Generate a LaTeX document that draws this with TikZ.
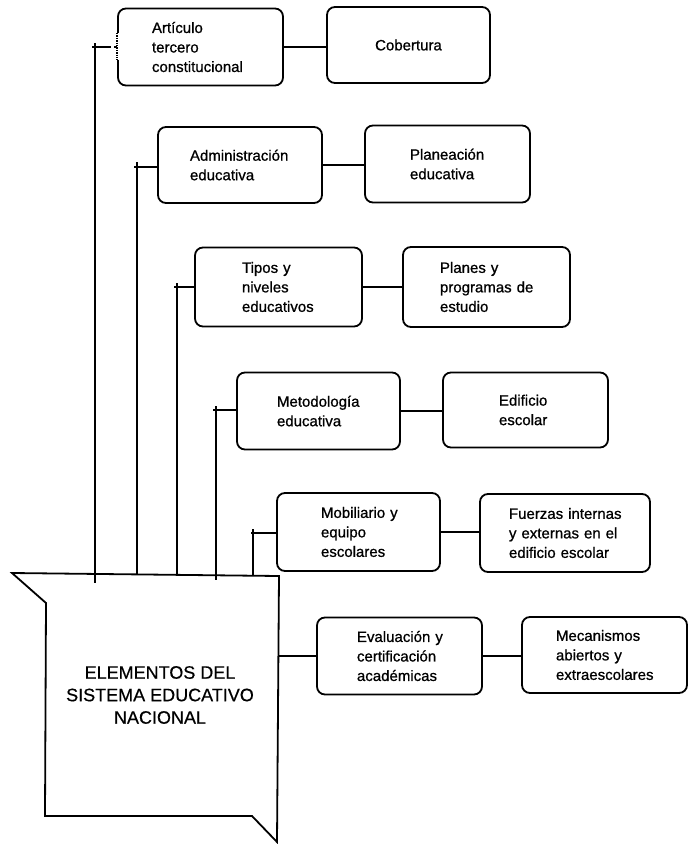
\documentclass[tikz,border=0pt]{standalone}
\usepackage{fontspec}
\setmainfont{Liberation Sans}
\newfontfamily\boxfont{Liberation Sans}[FakeBold=0.8]
\newfontfamily\mainfont{Liberation Sans}[FakeBold=0.5]
\newcommand\oneline[1]{\mbox{#1}}
\begin{document}
\begin{tikzpicture}[x=1pt,y=-1pt,
  box/.style={draw, rounded corners=8pt, line width=1.8pt,
    font=\boxfont\fontsize{15}{19.5}\selectfont, align=left, inner ysep=0pt},
  conn/.style={line width=1.8pt},
  maintext/.style={font=\mainfont\fontsize{18}{22.5}\selectfont, align=center}]
\fill[white] (0,0) rectangle (688,844);
\useasboundingbox (0,0) rectangle (688,844);

% boxes
\node[box, text width=97pt, inner xsep=34pt, minimum height=77pt] (art) at (200.5,47) {Artículo\\tercero\\constitucional};
\node[box, text width=123pt, inner xsep=20pt, minimum height=76pt, align=center] (cob) at (408.5,45) {Cobertura};
\node[box, text width=100pt, inner xsep=32pt, minimum height=76pt] (adm) at (240,165) {Administración\\educativa};
\node[box, text width=75pt, inner xsep=45pt, minimum height=77pt] (plan) at (447.5,164) {Planeación\\educativa};
\node[box, text width=73pt, inner xsep=47pt, minimum height=79pt] (tipos) at (278.5,287) {\oneline{Tipos y}\\niveles\\educativos};
\node[box, text width=93pt, inner xsep=37pt, minimum height=80pt] (planes) at (486.5,287) {\oneline{Planes y}\\\oneline{programas de}\\estudio};
\node[box, text width=83pt, inner xsep=40pt, minimum height=77pt] (met) at (318.5,411) {Metodología\\educativa};
\node[box, text width=53pt, inner xsep=56pt, minimum height=75pt] (edif) at (525.5,410) {Edificio\\escolar};
\node[box, text width=75pt, inner xsep=44pt, minimum height=78pt] (mob) at (358.5,532) {\oneline{Mobiliario y}\\equipo\\escolares};
\node[box, text width=112pt, inner xsep=29pt, minimum height=78pt] (fuer) at (565,533) {\oneline{Fuerzas internas}\\\oneline{y externas en el}\\\oneline{edificio escolar}};
\node[box, text width=85pt, inner xsep=40pt, minimum height=77pt] (eval) at (399.5,656) {\oneline{Evaluación y}\\certificación\\académicas};
\node[box, text width=97pt, inner xsep=34pt, minimum height=76pt] (mec) at (604.5,655) {Mecanismos\\\oneline{abiertos y}\\extraescolares};

% broken left side of the first box
\draw[white, line width=3.2pt] ([yshift=14pt]art.west) -- ([yshift=-13pt]art.west);
\draw[line width=1.4pt, densely dotted] ([yshift=14pt]art.west) -- ([yshift=-13pt]art.west);

% main shape
\draw[conn, line join=miter] (12,573) -- (279,576) -- (277,842) -- (252,816) -- (45,816) -- (46,603) -- cycle;
\node[maintext] (main) at (160,695) {ELEMENTOS DEL\\SISTEMA EDUCATIVO\\NACIONAL};

% connectors between paired boxes
\draw[conn] (art.east) -- (art.east -| cob.west);
\draw[conn] (adm.east) -- (adm.east -| plan.west);
\draw[conn] (tipos.east) -- (tipos.east -| planes.west);
\draw[conn] (met.east) -- (met.east -| edif.west);
\draw[conn] (mob.east) -- (mob.east -| fuer.west);
\draw[conn] (eval.east) -- (eval.east -| mec.west);

% connectors from the main shape
\coordinate (h1) at (92,47);
\coordinate (h1m) at (107,47);
\coordinate (v1t) at (95,43);
\coordinate (v1b) at (95,583);
\draw[conn] (h1) -- (h1m);
\draw[line width=1.4pt, dash pattern=on 4pt off 3pt] (h1m) -- (h1m -| art.west);
\draw[conn] (v1t) -- (v1b);

\coordinate (h2) at (134,167);
\coordinate (v2t) at (137,162);
\coordinate (v2b) at (137,574.5);
\draw[conn] (h2) -- (h2 -| adm.west);
\draw[conn] (v2t) -- (v2b);

\coordinate (h3) at (174,287);
\coordinate (v3t) at (177,283);
\coordinate (v3b) at (177,575);
\draw[conn] (h3) -- (h3 -| tipos.west);
\draw[conn] (v3t) -- (v3b);

\coordinate (h4) at (213,410);
\coordinate (v4t) at (216,406);
\coordinate (v4b) at (216,580);
\draw[conn] (h4) -- (h4 -| met.west);
\draw[conn] (v4t) -- (v4b);

\coordinate (h5) at (251,533);
\coordinate (v5t) at (253,529);
\coordinate (v5b) at (253,575.7);
\draw[conn] (h5) -- (h5 -| mob.west);
\draw[conn] (v5t) -- (v5b);

\coordinate (mR) at (279,656);
\draw[conn] (mR) -- (mR -| eval.west);
\end{tikzpicture}
\end{document}
